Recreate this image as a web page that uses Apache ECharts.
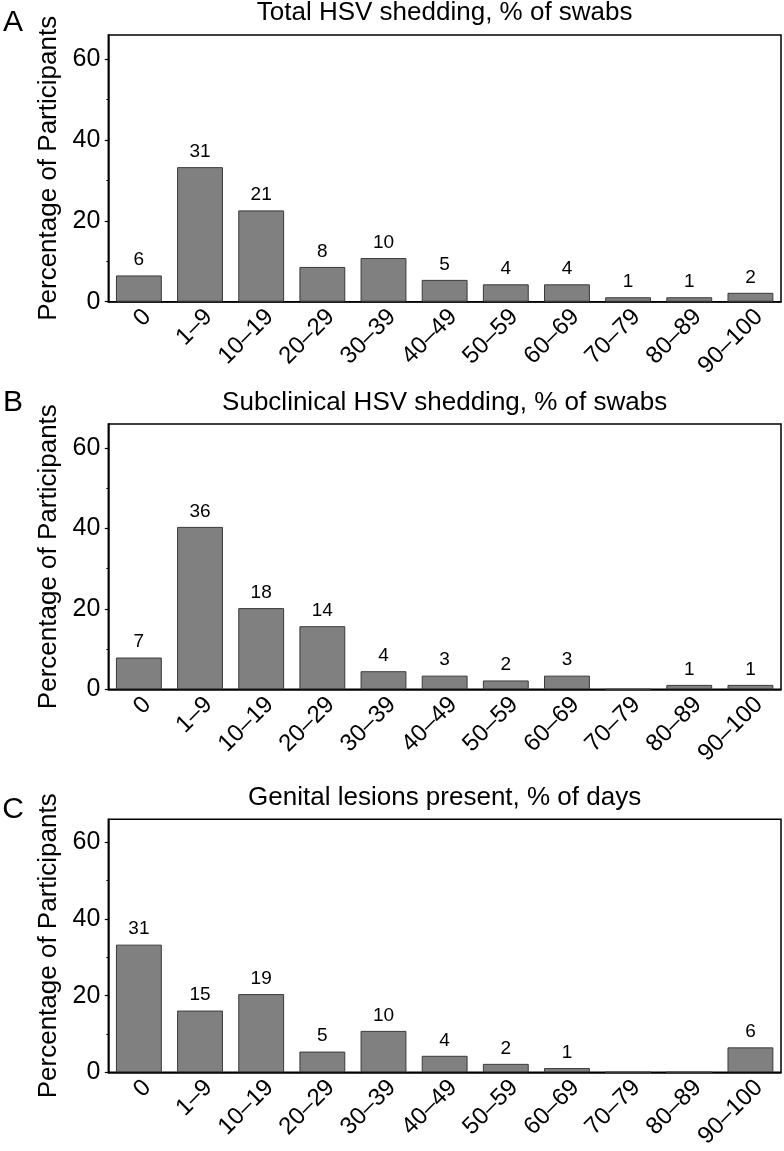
<!DOCTYPE html>
<html>
<head>
<meta charset="utf-8">
<script src="https://cdn.jsdelivr.net/npm/echarts@6/dist/echarts.min.js"></script>
<style>
html,body{margin:0;padding:0;background:#fff;}
#chart{width:784px;height:1151px;}
</style>
</head>
<body>
<div id="chart"></div>
<script>
const categories = ['0','1–9','10–19','20–29','30–39','40–49','50–59','60–69','70–79','80–89','90–100'];
const panelTitles = ['Total HSV shedding, % of swabs','Subclinical HSV shedding, % of swabs','Genital lesions present, % of days'];
const panelLetters = ['A','B','C'];
const yTicks = [0, 20, 40, 60];
const yMinorTicks = [10, 30, 50];
const pctA = [6.5, 33.3, 22.6, 8.6, 10.8, 5.4, 4.3, 4.3, 1.1, 1.1, 2.2];
const cntA = [6, 31, 21, 8, 10, 5, 4, 4, 1, 1, 2];
const pctB = [7.9, 40.4, 20.2, 15.7, 4.5, 3.4, 2.2, 3.4, 0, 1.1, 1.1];
const cntB = [7, 36, 18, 14, 4, 3, 2, 3, 0, 1, 1];
const pctC = [33.3, 16.1, 20.4, 5.4, 10.8, 4.3, 2.2, 1.1, 0, 0, 6.5];
const cntC = [31, 15, 19, 5, 10, 4, 2, 1, 0, 0, 6];

const pcts = [pctA, pctB, pctC];
const cnts = [cntA, cntB, cntC];

const FONT = 'Liberation Sans, Arial, Helvetica, sans-serif';
const layout = [
  {top: 35, height: 266.7, titleY: 13, letterY: 23},
  {top: 424, height: 265.3, titleY: 402.5, letterY: 403},
  {top: 819.3, height: 265, titleY: 797.5, letterY: 810}
];
const LEFT = 108.3, WIDTH = 672.7;

const grids = [], xAxes = [], yAxes = [], series = [], graphics = [];
layout.forEach((L, i) => {
  grids.push({left: LEFT, top: L.top, width: WIDTH, height: L.height, show: true,
    borderColor: '#000', borderWidth: 1.5, backgroundColor: 'transparent'});
  xAxes.push({type: 'category', gridIndex: i, data: categories,
    axisLine: {lineStyle: {color: '#000', width: 1.5}},
    axisTick: {show: false},
    axisLabel: {interval: 0, rotate: 45, align: 'right', verticalAlign: 'top', margin: 3,
      fontSize: 24, fontFamily: FONT, color: '#000'}});
  yAxes.push({type: 'value', gridIndex: i, min: 0, max: 66, position: 'left',
    name: 'Percentage of Participants', nameLocation: 'middle', nameGap: 46,
    nameTextStyle: {fontSize: 26, fontFamily: FONT, color: '#000'},
    axisLine: {show: true, lineStyle: {color: '#000', width: 1.5}},
    axisTick: {show: true, length: 3.5, customValues: yTicks, lineStyle: {color: '#000', width: 1.2}},
    axisLabel: {customValues: yTicks, margin: 8, fontSize: 25, fontFamily: FONT, color: '#000'},
    splitLine: {show: false}});
  yAxes.push({type: 'value', gridIndex: i, min: 0, max: 66, position: 'left',
    axisLine: {show: false},
    axisTick: {show: true, length: 2, customValues: yMinorTicks, lineStyle: {color: '#000', width: 1}},
    axisLabel: {show: false}, splitLine: {show: false}});
  const counts = cnts[i];
  series.push({type: 'bar', xAxisIndex: i, yAxisIndex: 2 * i, data: pcts[i],
    barCategoryGap: '25%',
    itemStyle: {color: '#808080', borderColor: '#3a3a3a', borderWidth: 1},
    label: {show: true, position: 'top', distance: 6, fontSize: 19, fontFamily: FONT, color: '#000',
      formatter: p => counts[p.dataIndex] ? String(counts[p.dataIndex]) : ''},
    silent: true});
  graphics.push({type: 'text', x: LEFT + WIDTH / 2, y: L.titleY,
    style: {text: panelTitles[i], fontSize: 26, fontFamily: FONT, fill: '#000', align: 'center', verticalAlign: 'middle'}});
  graphics.push({type: 'text', x: 13, y: L.letterY,
    style: {text: panelLetters[i], fontSize: 30, fontFamily: FONT, fill: '#000', align: 'center', verticalAlign: 'middle'}});
});

const chart = echarts.init(document.getElementById('chart'), null, {renderer: 'canvas'});
chart.setOption({
  animation: false,
  backgroundColor: '#fff',
  grid: grids, xAxis: xAxes, yAxis: yAxes, series: series, graphic: graphics
});
</script>
</body>
</html>
